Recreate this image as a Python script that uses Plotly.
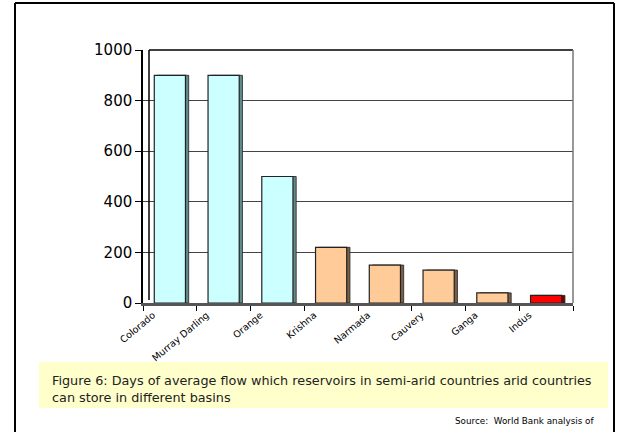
import plotly.graph_objects as go

categories = ["Colorado", "Murray Darling", "Orange", "Krishna", "Narmada", "Cauvery", "Ganga", "Indus"]
values = [900, 900, 500, 220, 150, 130, 40, 30]
bar_colors = ["#CCFFFF", "#CCFFFF", "#CCFFFF", "#FFCC99", "#FFCC99", "#FFCC99", "#FFCC99", "#FF0000"]
shadow_colors = ["#5E8C8C", "#5E8C8C", "#5E8C8C", "#7A6048", "#7A6048", "#7A6048", "#7A6048", "#7A0000"]
y_ticks = [0, 200, 400, 600, 800, 1000]

W, H = 618, 432
L, R, T, B = 143, 573, 50, 303

def px(x):
    return x / W

def py(y):
    return 1 - y / H

fig = go.Figure()
# 3D-like side shadow
fig.add_trace(go.Bar(
    x=categories, y=values,
    marker=dict(color=shadow_colors, line=dict(color="#222222", width=0.8)),
    width=0.58, offset=-0.29 + 0.06,
))
fig.add_trace(go.Bar(
    x=categories, y=values,
    marker=dict(color=bar_colors, line=dict(color="#222222", width=1.2)),
    width=0.58, offset=-0.29,
))

font_main = "DejaVu Sans"

fig.update_layout(
    width=W, height=H,
    margin=dict(l=0, r=0, t=0, b=0),
    paper_bgcolor="white", plot_bgcolor="white",
    showlegend=False, barmode="overlay",
    xaxis=dict(
        domain=[px(L), px(R)],
        tickangle=-40,
        tickfont=dict(family=font_main, size=9.5, color="black"),
        ticklabelshift=-17,
        showline=True, linecolor="#555555", linewidth=3, mirror=False,
        ticks="outside", tickson="boundaries", ticklen=5, tickcolor="black",
        showgrid=False, automargin=False,
    ),
    yaxis=dict(
        domain=[py(B), py(T)],
        range=[0, 1000],
        tickvals=y_ticks,
        tickfont=dict(family=font_main, size=15, color="black"),
        showline=True, linecolor="black", linewidth=1.5, mirror=False,
        ticks="outside", ticklen=6, tickcolor="black",
        showgrid=True, gridcolor="#444444", gridwidth=1,
        zeroline=False, automargin=False,
    ),
)

shapes = []
# back wall top and right edges
shapes.append(dict(type="line", xref="paper", yref="paper", x0=px(149), x1=px(R), y0=py(T), y1=py(T),
                   line=dict(color="black", width=1.5)))
shapes.append(dict(type="line", xref="paper", yref="paper", x0=px(R), x1=px(R), y0=py(T), y1=py(B),
                   line=dict(color="#777777", width=1.5)))
shapes.append(dict(type="line", xref="paper", yref="paper", x0=px(149), x1=px(149), y0=py(T), y1=py(B - 3),
                   line=dict(color="black", width=1.5)))
# outer frame
shapes.append(dict(type="line", xref="paper", yref="paper", x0=px(15), x1=px(614), y0=py(3), y1=py(3),
                   line=dict(color="black", width=2)))
shapes.append(dict(type="line", xref="paper", yref="paper", x0=px(15), x1=px(15), y0=py(3), y1=py(432),
                   line=dict(color="black", width=2)))
shapes.append(dict(type="line", xref="paper", yref="paper", x0=px(614), x1=px(614), y0=py(3), y1=py(432),
                   line=dict(color="black", width=2)))
# caption box
shapes.append(dict(type="rect", xref="paper", yref="paper", x0=px(39), x1=px(608), y0=py(362), y1=py(408),
                   fillcolor="#FFFFCC", line=dict(width=0), layer="below"))
fig.update_layout(shapes=shapes)

fig.add_annotation(
    xref="paper", yref="paper", x=px(50), y=py(371), xanchor="left", yanchor="top",
    text="Figure 6: Days of average flow which reservoirs in semi-arid countries arid countries<br>can store in different basins",
    showarrow=False, align="left",
    font=dict(family=font_main, size=12.8, color="#222222"),
)
fig.add_annotation(
    xref="paper", yref="paper", x=px(596), y=py(421), xanchor="right", yanchor="middle",
    text="Source:  World Bank analysis of",
    showarrow=False,
    font=dict(family=font_main, size=8.8, color="black"),
)

fig.write_html("out.html")
